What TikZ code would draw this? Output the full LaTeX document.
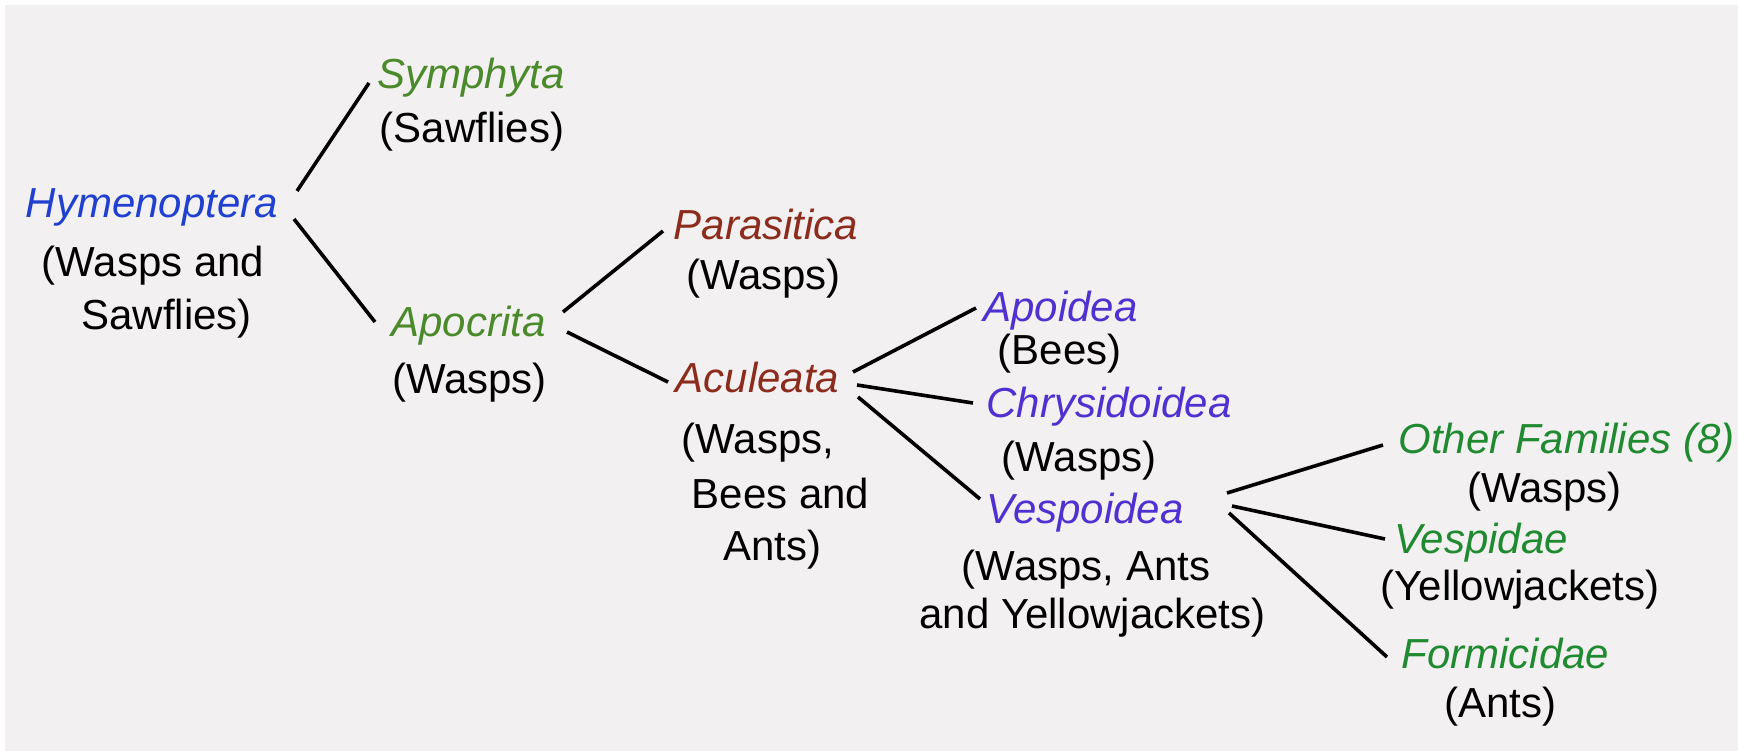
\documentclass[tikz,border=0pt]{standalone}
\usepackage{fontspec}
\setmainfont{Liberation Sans}
\usetikzlibrary{calc}
\definecolor{bgc}{HTML}{F2F0F1}
\definecolor{hymc}{HTML}{2040D0}
\definecolor{olivec}{HTML}{4A8A2A}
\definecolor{redc}{HTML}{8C2C1C}
\definecolor{violc}{HTML}{5030D0}
\definecolor{greenc}{HTML}{208A30}
\tikzset{
  lbl/.style={anchor=base, inner sep=0pt, font=\fontsize{42}{50}\selectfont},
  ttl/.style={lbl, font=\fontsize{42}{50}\selectfont\itshape},
  sub/.style={lbl, text=black},
  conn/.style={draw=black, line width=3.6pt}
}
\begin{document}
\begin{tikzpicture}[x=1pt, y=-1pt]
\useasboundingbox (0,0) rectangle (1738,751);
\fill[white] (0,0) rectangle (1738,751);
\fill[bgc] (5,5) rectangle (1738,751);

% titles
\node[ttl, text=hymc] (hym) at (152,218) {Hymenoptera};
\node[ttl, text=olivec] (sym) at (471,89) {Symphyta};
\node[ttl, text=olivec] (apo) at (468.5,337) {Apocrita};
\node[ttl, text=redc] (par) at (766,240) {Parasitica};
\node[ttl, text=redc] (acu) at (757.5,392) {Aculeata};
\node[ttl, text=violc] (apd) at (1060.5,322) {Apoidea};
\node[ttl, text=violc] (chr) at (1109,417) {Chrysidoidea};
\node[ttl, text=violc] (vsp) at (1085,523) {Vespoidea};
\node[ttl, text=greenc] (oth) at (1566.5,453) {Other Families (8)};
\node[ttl, text=greenc] (vsd) at (1481,553) {Vespidae};
\node[ttl, text=greenc] (frm) at (1505.5,668) {Formicidae};

% common names
\node[sub] (hymA) at (153,277) {(Wasps and};
\node[sub] (hymB) at (166.5,330) {Sawflies)};
\node[sub] (symA) at (472,143) {(Sawflies)};
\node[sub] (apoA) at (469.5,393) {(Wasps)};
\node[sub] (parA) at (763.5,290) {(Wasps)};
\node[sub] (acuA) at (758,453) {(Wasps,};
\node[sub] (acuB) at (780.5,508) {Bees and};
\node[sub] (acuC) at (772.5,560) {Ants)};
\node[sub] (apdA) at (1059.5,365) {(Bees)};
\node[sub] (chrA) at (1079,471) {(Wasps)};
\node[sub] (vspA) at (1086,580) {(Wasps, Ants};
\node[sub] (vspB) at (1092.5,628) {and Yellowjackets)};
\node[sub] (othA) at (1544.5,502) {(Wasps)};
\node[sub] (vsdA) at (1520,600) {(Yellowjackets)};
\node[sub] (frmA) at (1500.5,717) {(Ants)};

% connectors
\draw[conn] ($(hym.base)+(145,-27)$) -- ($(sym.base)+(-102,-6)$);
\draw[conn] ($(hym.base)+(142,1)$) -- ($(apo.base)+(-93.5,-15)$);
\draw[conn] ($(apo.base)+(94.5,-25)$) -- ($(par.base)+(-103,-9)$);
\draw[conn] ($(apo.base)+(98.5,-5)$) -- ($(acu.base)+(-89.5,-10)$);
\draw[conn] ($(acu.base)+(95.5,-20)$) -- ($(apd.base)+(-84.5,-14)$);
\draw[conn] ($(acu.base)+(99.5,-7)$) -- ($(chr.base)+(-136,-14)$);
\draw[conn] ($(acu.base)+(100.5,5)$) -- ($(vsp.base)+(-105,-24)$);
\draw[conn] ($(vsp.base)+(142,-30)$) -- ($(oth.base)+(-183.5,-8)$);
\draw[conn] ($(vsp.base)+(147,-17)$) -- ($(vsd.base)+(-96,-14)$);
\draw[conn] ($(vsp.base)+(144,-10)$) -- ($(frm.base)+(-118.5,-11)$);
\end{tikzpicture}
\end{document}
